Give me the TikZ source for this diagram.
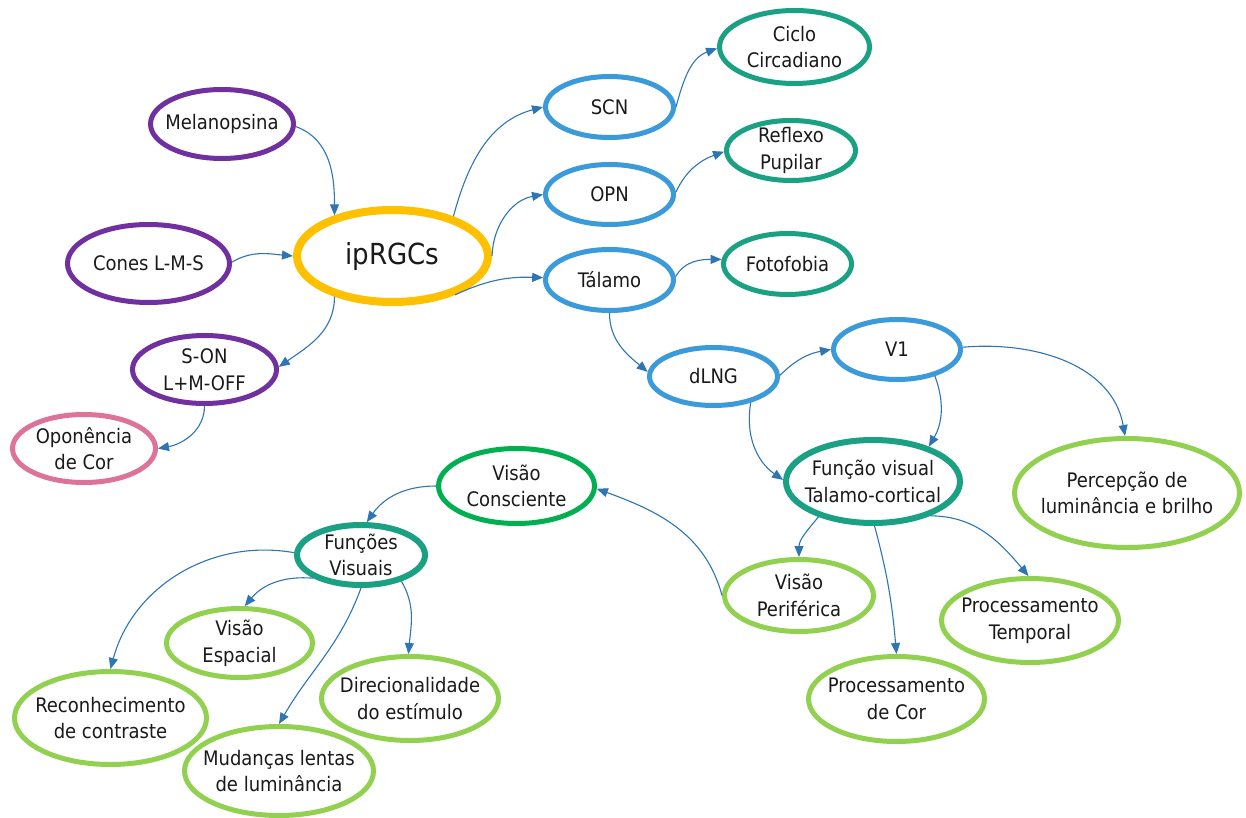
\documentclass[tikz,border=0pt]{standalone}
\usepackage{fontspec}
\setmainfont{DejaVu Sans Condensed}
\usetikzlibrary{arrows.meta,shapes.geometric}
\definecolor{cpurple}{HTML}{7030A0}
\definecolor{cyellow}{HTML}{FFC000}
\definecolor{cblue}{HTML}{3B9ADA}
\definecolor{cteal}{HTML}{1AA083}
\definecolor{cgreen}{HTML}{00B050}
\definecolor{clgreen}{HTML}{92D050}
\definecolor{cpink}{HTML}{DE7399}
\definecolor{carrow}{HTML}{2E75B6}
\definecolor{ctext}{HTML}{1A1A1A}
\begin{document}
\begin{tikzpicture}[x=1pt,y=-1pt,
  box/.style={ellipse, draw, fill=white, line width=5pt, inner sep=-60pt, align=center,
    font=\fontsize{20pt}{26.7pt}\selectfont, text=ctext},
  conn/.style={draw=carrow, line width=1.1pt, -{Triangle[length=11pt,width=9pt]}}]
\fill[white] (0,0) rectangle (1246,818);
\useasboundingbox (0,0) rectangle (1246,818);

\node[box, draw=cpurple, minimum width=143pt, minimum height=69pt] (mel) at (222,124) {Melanopsina};
\node[box, draw=cpurple, minimum width=162pt, minimum height=78pt] (cones) at (148.5,263.5) {Cones L-M-S};
\node[box, draw=cyellow, line width=8pt, minimum width=191pt, minimum height=92pt,
      font=\fontsize{29pt}{34pt}\selectfont] (ip) at (392.5,256) {ipRGCs};
\node[box, draw=cpurple, minimum width=144pt, minimum height=68pt] (son) at (204.5,369.5) {S-ON\\L+M-OFF};
\node[box, draw=cpink, minimum width=143pt, minimum height=68pt] (opo) at (84,448.5) {Oponência\\de Cor};
\node[box, draw=cblue, minimum width=128pt, minimum height=61pt] (scn) at (609.5,107) {SCN};
\node[box, draw=cblue, minimum width=128pt, minimum height=60pt] (opn) at (609.5,194.5) {OPN};
\node[box, draw=cblue, minimum width=128pt, minimum height=61pt] (tal) at (609.5,280) {Tálamo};
\node[box, draw=cteal, minimum width=150pt, minimum height=73pt] (cic) at (794.5,47) {Ciclo\\Circadiano};
\node[box, draw=cteal, minimum width=129pt, minimum height=60pt] (ref) at (791,150.5) {Reflexo\\Pupilar};
\node[box, draw=cteal, minimum width=128pt, minimum height=61pt] (fot) at (787.5,264) {Fotofobia};
\node[box, draw=cblue, minimum width=128pt, minimum height=58pt] (dlng) at (713.5,376.5) {dLNG};
\node[box, draw=cblue, minimum width=127pt, minimum height=60pt] (v1) at (897,349.5) {V1};
\node[box, draw=cteal, line width=6pt, minimum width=174pt, minimum height=83pt] (fvt) at (873,481.5) {Função visual\\Talamo-cortical};
\node[box, draw=clgreen, minimum width=225pt, minimum height=109pt] (perc) at (1127,493) {Percepção de\\luminância e brilho};
\node[box, draw=clgreen, minimum width=149pt, minimum height=72pt] (vper) at (799,595.5) {Visão\\Periférica};
\node[box, draw=clgreen, minimum width=177pt, minimum height=84pt] (ptemp) at (1030,620.5) {Processamento\\Temporal};
\node[box, draw=clgreen, minimum width=176pt, minimum height=85pt] (pcor) at (896.5,699) {Processamento\\de Cor};
\node[box, draw=cteal, line width=6pt, minimum width=128pt, minimum height=60pt] (fvis) at (361,555) {Funções\\Visuais};
\node[box, draw=clgreen, minimum width=146pt, minimum height=69pt] (vesp) at (239.5,643) {Visão\\Espacial};
\node[box, draw=clgreen, minimum width=192pt, minimum height=93pt] (rec) at (110.5,718) {Reconhecimento\\de contraste};
\node[box, draw=clgreen, minimum width=177pt, minimum height=84pt] (dir) at (410,698.5) {Direcionalidade\\do estímulo};
\node[box, draw=clgreen, minimum width=189pt, minimum height=89pt] (mud) at (279,771) {Mudanças lentas\\de luminância};
\node[box, draw=cgreen, minimum width=156pt, minimum height=75pt] (vcon) at (516.5,486) {Visão\\Consciente};

\draw[conn] (mel.-2) to[out=-20,in=90] (ip.145);
\draw[conn] (cones.1) to[out=30,in=175] (ip.180);
\draw[conn] (ip.215) to[out=-90,in=35] (son.2);
\draw[conn] (son.-90) to[out=-90,in=10] (opo.0);
\draw[conn] (ip.33) to[out=75,in=195] (scn.180);
\draw[conn] (ip.0) to[out=88,in=190] (opn.180);
\draw[conn] (ip.-32) to[out=25,in=178] (tal.178);
\draw[conn] (scn.0) to[out=75,in=200] (cic.181);
\draw[conn] (opn.2) to[out=65,in=200] (ref.181);
\draw[conn] (tal.3) to[out=60,in=180] (fot.176);
\draw[conn] (tal.-90) to[out=-90,in=140] (dlng.176);
\draw[conn] (dlng.1) to[out=45,in=190] (v1.180);
\draw[conn] (dlng.-35) to[out=-100,in=145] (fvt.179);
\draw[conn] (v1.-35) to[out=-70,in=60] (fvt.32);
\draw[conn] (v1.2) to[out=5,in=100] (perc.92);
\draw[conn] (fvt.-147) to[out=-130,in=90] (vper.90);
\draw[conn] (fvt.-88) to[out=-75,in=95] (pcor.90);
\draw[conn] (fvt.-31) to[out=0,in=130] (ptemp.92);
\draw[conn] (vper.180) to[out=105,in=-20] (vcon.-2);
\draw[conn] (vcon.180) to[out=180,in=55] (fvis.80);
\draw[conn] (fvis.178) to[out=170,in=75] (rec.90);
\draw[conn] (fvis.-154) to[out=175,in=50] (vesp.82);
\draw[conn] (fvis.-90) to[out=-110,in=60] (mud.90);
\draw[conn] (fvis.-33) to[out=-60,in=85] (dir.92);
\end{tikzpicture}
\end{document}
